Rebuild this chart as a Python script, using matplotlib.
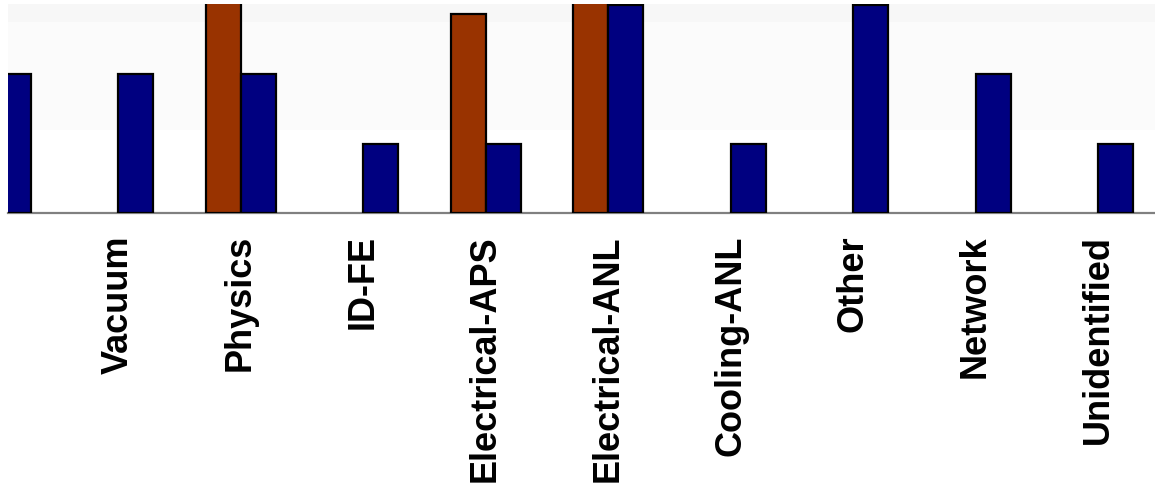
import matplotlib
matplotlib.use('Agg')
import matplotlib.pyplot as plt
import numpy as np

# categories (first one is cut off in the picture)
categories = ['', 'Vacuum', 'Physics', 'ID-FE', 'Electrical-APS', 'Electrical-ANL',
              'Cooling-ANL', 'Other', 'Network', 'Unidentified']
orange_vals = [0, 0, 3.6, 0, 2.87, 3.8, 0, 0, 0, 0]
blue_vals = [2, 2, 2, 1, 1, 3, 1, 3, 2, 1]

plt.rcParams['font.family'] = ['Liberation Sans', 'DejaVu Sans']

fig = plt.figure(figsize=(11.55, 5.04), dpi=100)
ax = fig.add_axes([8/1155, 1 - 213/504, 1 - 8/1155, 209/504])

x = np.arange(len(categories))
w = 35/122.5

# faint background bands
ax.axhspan(1.19, 2.75, color='#fbfbfb', zorder=0, lw=0)
ax.axhspan(2.75, 3.2, color='#f7f7f7', zorder=0, lw=0)

orange = np.array(orange_vals, dtype=float)
keep = orange > 0
ax.bar(x[keep] - w, orange[keep], width=w, align='edge', color='#993300',
       edgecolor='black', linewidth=1.6, zorder=3)
ax.bar(x, blue_vals, width=w, align='edge', color='#000080',
       edgecolor='black', linewidth=1.6, zorder=3)

ax.set_xticks(x)
ax.set_xticklabels(categories, rotation=90, fontsize=26, fontweight='bold')
ax.tick_params(axis='x', length=0, pad=16)
ax.set_yticks([])

# limits after the ticks, so the view is not widened
ax.set_xlim(12.5/122.5, 1159.5/122.5)
ax.set_ylim(0, 3.01)

for s in ['top', 'right', 'left']:
    ax.spines[s].set_visible(False)
ax.spines['bottom'].set_color('#808080')
ax.spines['bottom'].set_linewidth(1.6)

plt.savefig('out.png', dpi=100)
